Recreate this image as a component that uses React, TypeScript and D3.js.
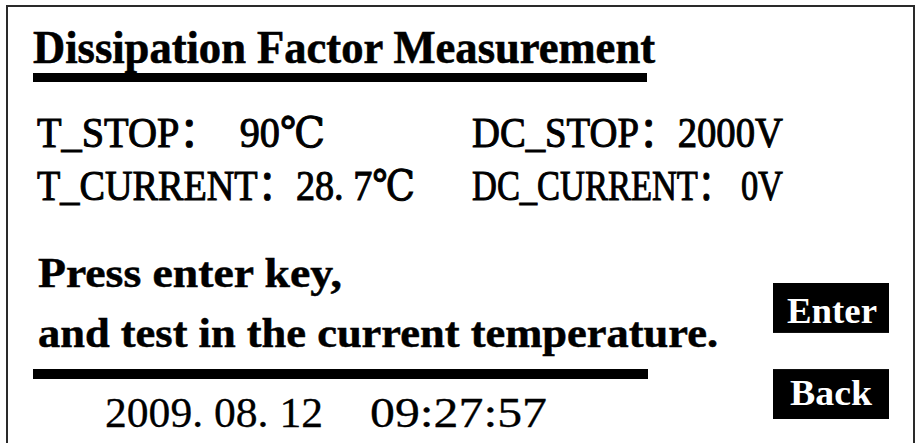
import { useEffect, useRef } from "react";
import * as d3 from "d3";

const W = 915;
const H = 443;

// screen content
const TITLE = "Dissipation Factor Measurement";
const PARAM_LABELS = ["T_STOP：", "T_CURRENT：", "DC_STOP：", "DC_CURRENT："];
const PARAM_VALUES = ["  90℃", "28. 7℃", "2000V", " 0V"];
const PROMPT_LINES = ["Press enter key,", "and test in the current temperature."];
const DATE_PARTS = ["2009. 08. 12", "09:27:57"];
const BUTTONS = ["Enter", "Back"];

const SERIF = "'Liberation Serif', 'DejaVu Serif', 'Noto Sans CJK SC', serif";

export default function App() {
  const svgRef = useRef<SVGSVGElement>(null);

  useEffect(() => {
    if (!svgRef.current) return;
    const svg = d3.select(svgRef.current);
    svg.selectAll("*").remove();

    svg.append("rect").attr("width", W).attr("height", H).attr("fill", "#fff");

    // panel frame (bottom edge runs off the picture)
    svg.append("rect")
      .attr("x", 7).attr("y", 6)
      .attr("width", 907).attr("height", 470)
      .attr("fill", "none")
      .attr("stroke", "#2a2a2a")
      .attr("stroke-width", 2);

    const txt = (
      s: string,
      x0: number,
      x1: number,
      base: number,
      size: number,
      weight: string,
      fill = "#000",
    ) =>
      svg.append("text")
        .attr("x", x0)
        .attr("y", base)
        .attr("font-family", SERIF)
        .attr("font-size", size)
        .attr("font-weight", weight)
        .attr("fill", fill)
        .attr("textLength", x1 - x0)
        .attr("lengthAdjust", "spacingAndGlyphs")
        .style("white-space", "pre")
        .text(s);

    // title + rule
    txt(TITLE, 33, 655, 63, 46, "bold").attr("stroke", "#000").attr("stroke-width", 0.6);
    svg.append("rect").attr("x", 33).attr("y", 73).attr("width", 614).attr("height", 9).attr("fill", "#000");

    // parameter grid: two columns x two rows, one text per cell
    const rowY = d3.scalePoint<number>().domain([0, 1]).range([147, 200]);
    const cellSpan = [[37, 325], [37, 415], [472, 783], [472, 783]];
    PARAM_LABELS.forEach((lab, i) => {
      txt(lab + PARAM_VALUES[i], cellSpan[i][0], cellSpan[i][1], rowY(i % 2) as number, 42, "normal")
        .attr("stroke", "#000").attr("stroke-width", 1);
    });

    // prompt
    const promptY = d3.scalePoint<number>().domain([0, 1]).range([287, 347]);
    const promptEnd = [342, 718];
    PROMPT_LINES.forEach((line, i) => {
      txt(line, 38, promptEnd[i], promptY(i) as number, 42, "bold")
        .attr("stroke", "#000").attr("stroke-width", 0.5);
    });

    svg.append("rect").attr("x", 33).attr("y", 369).attr("width", 615).attr("height", 10).attr("fill", "#000");

    // date / time
    txt(DATE_PARTS[0], 105, 323, 427, 42, "normal").attr("stroke", "#000").attr("stroke-width", 0.3);
    txt(DATE_PARTS[1], 370, 547, 427, 42, "normal").attr("stroke", "#000").attr("stroke-width", 0.3);

    // soft keys
    const btnY = d3.scaleBand<number>().domain([0, 1]).range([283, 419]).paddingInner(0.42);
    const btnText = [[787, 877, 323], [790, 872, 405]];
    BUTTONS.forEach((b, i) => {
      svg.append("rect")
        .attr("x", 773)
        .attr("y", btnY(i) as number)
        .attr("width", 116)
        .attr("height", btnY.bandwidth())
        .attr("fill", "#000");
      txt(b, btnText[i][0], btnText[i][1], btnText[i][2], 36, "bold", "#fff");
    });
  }, []);

  return (
    <svg
      ref={svgRef}
      width={W}
      height={H}
      style={{ position: "absolute", left: 0, top: 0, display: "block" }}
    />
  );
}
